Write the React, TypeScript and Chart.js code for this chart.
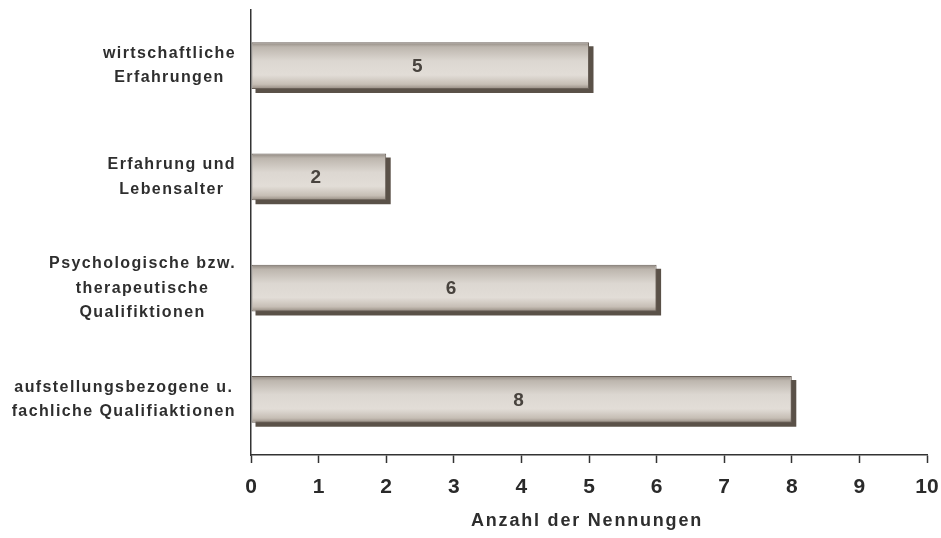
import React, { useEffect, useRef } from "react";
import { Chart, registerables } from "chart.js";

Chart.register(...registerables);

const categories: string[][] = [
  ["wirtschaftliche", "Erfahrungen"],
  ["Erfahrung und", "Lebensalter"],
  ["Psychologische bzw.", "therapeutische", "Qualifiktionen"],
  ["aufstellungsbezogene u.", "fachliche Qualifiaktionen"],
];
const values: number[] = [5, 2, 6, 8];
const xMin = 0;
const xMax = 10;
const xStep = 1;
const xTitle = "Anzahl der Nennungen";

const FONT = '"Liberation Sans", Arial, Helvetica, sans-serif';
const BAR_PCT = 0.42;

const yLabelPlugin = {
  id: "yLabels",
  afterDraw(chart: any) {
    const y = chart.scales.y;
    const ctx = chart.ctx;
    ctx.save();
    ctx.font = `bold 16px ${FONT}`;
    (ctx as any).letterSpacing = "1.4px";
    ctx.fillStyle = "#2e2e2e";
    ctx.textAlign = "center";
    ctx.textBaseline = "middle";
    categories.forEach((lines, i) => {
      const cy = y.getPixelForTick(i);
      const w = Math.max(...lines.map((l) => ctx.measureText(l).width));
      const cx = y.right - 15 - w / 2;
      const lh = 24.5;
      lines.forEach((l, j) => {
        ctx.fillText(l, cx, cy + (j - (lines.length - 1) / 2) * lh);
      });
    });
    ctx.restore();
  },
};

const titlePlugin = {
  id: "xTitleDraw",
  afterDraw(chart: any) {
    const x = chart.scales.x;
    const ctx = chart.ctx;
    ctx.save();
    ctx.font = `bold 18px ${FONT}`;
    (ctx as any).letterSpacing = "1.8px";
    ctx.fillStyle = "#2e2e2e";
    ctx.textAlign = "center";
    ctx.textBaseline = "middle";
    ctx.fillText(xTitle, (x.left + x.right) / 2 - 2, x.bottom - 17);
    ctx.restore();
  },
};

const shadowPlugin = {
  id: "barShadow",
  beforeDatasetsDraw(chart: any) {
    const ctx = chart.ctx;
    const meta = chart.getDatasetMeta(0);
    ctx.save();
    ctx.fillStyle = "#5a5148";
    meta.data.forEach((el: any) => {
      const h = el.height;
      ctx.fillRect(el.base + 4, el.y - h / 2 + 4, el.x - el.base + 0.5, h);
    });
    ctx.restore();
  },
};

const valueLabelPlugin = {
  id: "valueLabels",
  afterDatasetsDraw(chart: any) {
    const ctx = chart.ctx;
    const meta = chart.getDatasetMeta(0);
    ctx.save();
    ctx.font = `bold 19px ${FONT}`;
    ctx.fillStyle = "#48433e";
    ctx.textAlign = "center";
    ctx.textBaseline = "middle";
    meta.data.forEach((el: any, i: number) => {
      ctx.fillText(String(values[i]), (el.base + el.x) / 2 - 3, el.y + 1);
    });
    ctx.restore();
  },
};

export default function App() {
  const ref = useRef<HTMLCanvasElement | null>(null);
  useEffect(() => {
    document.body.style.margin = "0";
    document.body.style.background = "#fff";
    const canvas = ref.current!;
    const chart = new Chart(canvas, {
      type: "bar",
      data: {
        labels: categories,
        datasets: [
          {
            data: values,
            barPercentage: BAR_PCT,
            categoryPercentage: 1,
            borderWidth: 1,
            borderColor: "#6a6159",
            borderSkipped: false,
            backgroundColor: (c: any) => {
              const chart = c.chart;
              const ys = chart.scales && chart.scales.y;
              if (!ys || c.dataIndex === undefined) return "#d6d0c8";
              const cy = ys.getPixelForTick(c.dataIndex);
              const h = ((ys.bottom - ys.top) / categories.length) * BAR_PCT;
              if (!isFinite(cy) || !isFinite(h) || h <= 0) return "#d6d0c8";
              const g = chart.ctx.createLinearGradient(0, cy - h / 2, 0, cy + h / 2);
              g.addColorStop(0, "#8f877f");
              g.addColorStop(0.1, "#bdb6ae");
              g.addColorStop(0.4, "#dcd7d1");
              g.addColorStop(0.7, "#e2ddd7");
              g.addColorStop(0.9, "#c6beb5");
              g.addColorStop(1, "#948a80");
              return g;
            },
          },
        ],
      },
      options: {
        indexAxis: "y",
        animation: false,
        responsive: true,
        maintainAspectRatio: false,
        layout: { padding: { top: 10, right: 0, left: 0, bottom: 0 } },
        plugins: {
          legend: { display: false },
          tooltip: { enabled: false },
          title: { display: false },
        },
        scales: {
          x: {
            type: "linear",
            min: xMin,
            max: xMax,
            ticks: {
              stepSize: xStep,
              color: "#2a2a2a",
              font: { family: FONT, size: 21, weight: "bold" },
              padding: 12,
            },
            grid: {
              drawOnChartArea: false,
              drawTicks: true,
              tickLength: 8,
              tickColor: "#333",
              tickWidth: 1.5,
            },
            border: { display: true, color: "#333", width: 1.5 },
            title: { display: false },
            afterFit: (s: any) => {
              s.height = 83;
              s.paddingRight = 14;
              s.paddingLeft = 0;
            },
          },
          y: {
            type: "category",
            ticks: { display: false },
            grid: { display: false },
            border: { display: true, color: "#333", width: 1.5 },
            afterFit: (s: any) => {
              s.width = 251;
            },
          },
        },
      },
      plugins: [shadowPlugin, valueLabelPlugin, yLabelPlugin, titlePlugin],
    } as any);
    return () => chart.destroy();
  }, []);
  return (
    <div style={{ width: 941, height: 538, position: "relative" }}>
      <canvas ref={ref} />
    </div>
  );
}
